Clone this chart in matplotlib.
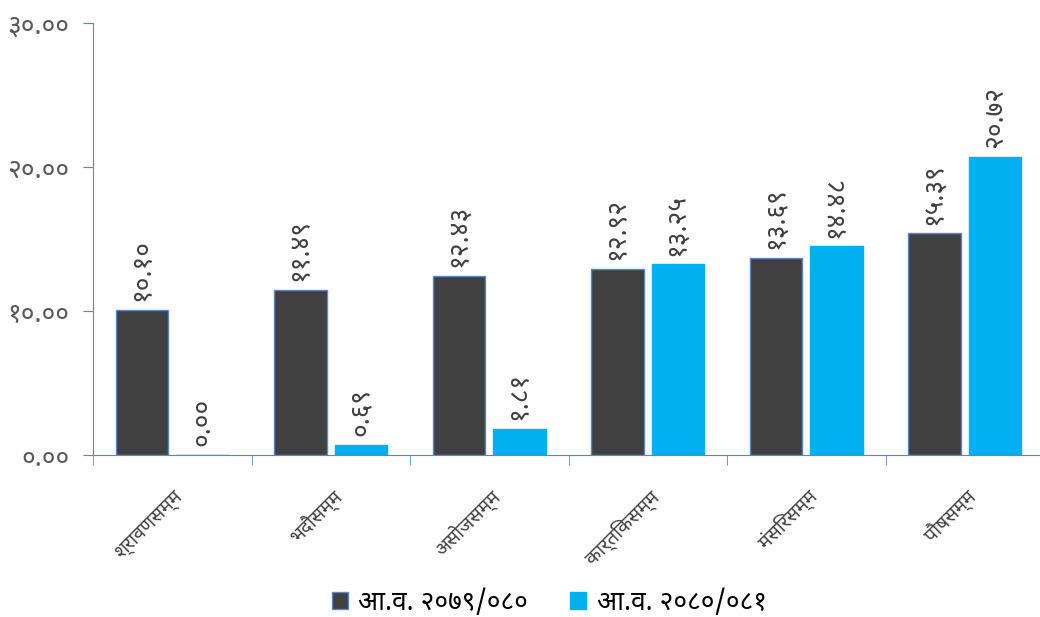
import matplotlib
matplotlib.use('Agg')
import numpy as np
import matplotlib.pyplot as plt
from matplotlib import font_manager
from matplotlib.ft2font import FT2Font

months = ['श्रावणसम्म', 'भदौसम्म', 'असोजसम्म', 'कार्तिकसम्म', 'मंसिरसम्म', 'पौषसम्म']
fy_prev = [10.10, 11.49, 12.43, 12.92, 13.69, 15.39]
fy_curr = [0.00, 0.69, 1.81, 13.25, 14.48, 20.72]
series_names = ['आ.व. २०७९/०८०', 'आ.व. २०८०/०८१']
yticks = [0, 10, 20, 30]

DEV_DIGITS = str.maketrans('0123456789', '०१२३४५६७८९')


def to_nepali(v):
    return '{:.2f}'.format(v).translate(DEV_DIGITS)


def find_devanagari_font():
    """Pick an installed font with Devanagari glyphs, avoiding monospace ones."""
    found = []
    for f in font_manager.fontManager.ttflist:
        try:
            cmap = FT2Font(f.fname).get_charmap()
        except Exception:
            continue
        if 0x0915 in cmap and 0x0966 in cmap:
            found.append(f.name)
    if not found:
        return None
    prefer = ['Noto Sans Devanagari', 'Mukta', 'Lohit Devanagari', 'Kalimati',
              'Mangal', 'Gargi', 'FreeSans', 'Noto Serif Devanagari']
    for p in prefer:
        if p in found:
            return p
    not_mono = [n for n in found if 'mono' not in n.lower()]
    return (not_mono or found)[0]


deva = find_devanagari_font()
families = ([deva] if deva else []) + ['DejaVu Sans']
plt.rcParams['font.family'] = families

fig = plt.figure(figsize=(10.4, 6.17), dpi=100)
ax = fig.add_axes([93 / 1040, 162 / 617, 951 / 1040, 432 / 617])

x = np.arange(len(months))
w = 0.33
off = 0.19
dark = '#404040'
blue = '#00B0F0'
edge = '#5B87C8'

b1 = ax.bar(x - off, fy_prev, w, color=dark, edgecolor=edge, linewidth=1,
            label=series_names[0])
b2 = ax.bar(x + off, fy_curr, w, color=blue, edgecolor=blue, linewidth=1,
            label=series_names[1])

for bars, vals in ((b1, fy_prev), (b2, fy_curr)):
    for r, v in zip(bars, vals):
        ax.text(r.get_x() + r.get_width() / 2, v + 0.6, to_nepali(v),
                rotation=90, ha='center', va='bottom', fontsize=19,
                color='#404040')

ax.set_xlim(-0.5, len(months) - 0.5)
ax.set_ylim(0, 30)
ax.set_yticks(yticks)
ax.set_yticklabels([to_nepali(t) for t in yticks], fontsize=19,
                   color='#595959')

ax.set_xticks(np.arange(len(months) + 1) - 0.5, minor=True)
ax.set_xticks(x)
ax.set_xticklabels(months, rotation=45, ha='right', va='top',
                   rotation_mode='anchor', fontsize=14, color='#404040')
ax.tick_params(axis='x', which='major', length=0, pad=22)
ax.tick_params(axis='x', which='minor', length=7, color=edge, direction='out')
ax.tick_params(axis='y', length=7, color=edge, pad=10)

for s in ['top', 'right']:
    ax.spines[s].set_visible(False)
ax.spines['left'].set_color(edge)
ax.spines['bottom'].set_color(edge)

fig.legend(loc='center', bbox_to_anchor=(0.528, 0.023), ncol=2, frameon=False,
           fontsize=19, handlelength=0.6, handleheight=0.6,
           columnspacing=1.6, handletextpad=0.4)

fig.savefig('out.png', dpi=100)
